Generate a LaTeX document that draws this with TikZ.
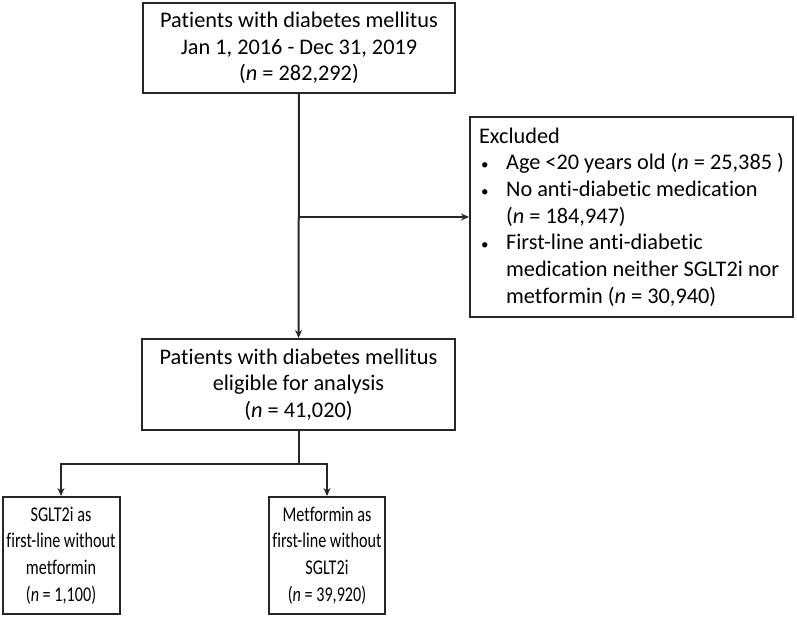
\documentclass[tikz,border=0pt]{standalone}
\usepackage{fontspec}
\setmainfont{Carlito}[Ligatures={NoCommon}]
\newfontfamily\narrowfont{Carlito}[FakeStretch=0.77, Ligatures={NoCommon}]
\usetikzlibrary{arrows.meta}
\usetikzlibrary{calc}
\newcommand\exbullet{\hspace*{2pt}\makebox[25pt][l]{\fontsize{15}{15}\selectfont\textbullet}}
\newcommand\exindent{\hspace*{27pt}}

\begin{document}
\begin{tikzpicture}[%
        x = 1pt,
        y = -1pt,
        draw = black!85,
        line width = 2pt,
        font = \fontsize{22.3}{26.7}\selectfont,
        box/.style = {draw, fill = white, align = center, inner sep = 0pt},
        flow/.style = {-{Stealth[length=8pt,width=7pt]}},
        ]

\useasboundingbox[] (0,0) rectangle (797,616);
% \draw[help lines] (0,0) grid[step=50] (797,616);


\node (top) [box, minimum width = 312pt, minimum height = 90pt] at (299,48)
    {Patients with diabetes mellitus\\
     Jan 1, 2016 - Dec 31, 2019\\
     (\textit{n} = 282,292)%
    };

\node (mid) [box, minimum width = 313pt, minimum height = 91pt] at (298.5,384.5)
    {Patients with diabetes mellitus\\
     eligible for analysis\\
     (\textit{n} = 41,020)%
    };


\node (excl) [box, align = left, minimum width = 323pt, minimum height = 200pt]
    at (631.5,217)
    {Excluded\\
     \exbullet Age <20 years old (\textit{n} = 25,385 )\\
     \exbullet No anti-diabetic medication\\
     \exindent (\textit{n} = 184,947)\\
     \exbullet First-line anti-diabetic\\
     \exindent medication neither SGLT2i nor\\
     \exindent metformin (\textit{n} = 30,940)%
    };


\node (sglt) [box, minimum width = 117pt, minimum height = 117pt,
              font = \fontsize{21}{26.7}\narrowfont] at (61,555.5)
    {SGLT2i as\\
     first-line without\\
     metformin\\
     (\textit{n} = 1,100)%
    };

\node (metf) [box, minimum width = 116pt, minimum height = 117pt,
              font = \fontsize{21}{26.7}\narrowfont] at (327,555.5)
    {Metformin as\\
     first-line without\\
     SGLT2i\\
     (\textit{n} = 39,920)%
    };


\draw[flow] (top) -- (mid);
\coordinate (br) at (top.south |- excl.west);
\draw[flow] (br) -- (excl.west);

\draw (mid.south) -- ($(mid.south)+(0,33)$) coordinate (split);
\draw[flow] (split) -| (sglt.north);
\draw[flow] (split) -| (metf.north);


\end{tikzpicture}
\end{document}
